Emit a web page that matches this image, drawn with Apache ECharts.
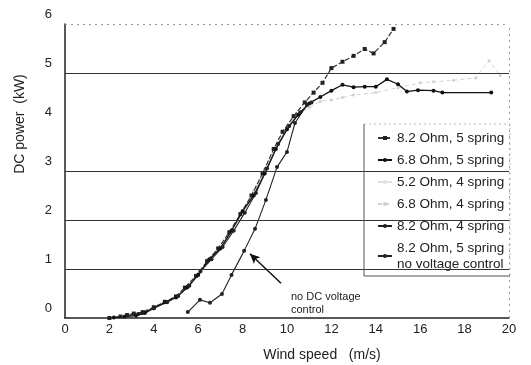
<!DOCTYPE html>
<html>
<head>
<meta charset="utf-8">
<script src="https://cdn.jsdelivr.net/npm/echarts@6/dist/echarts.min.js"></script>
<style>
html,body{margin:0;padding:0;background:#fff;}
#chart{width:531px;height:365px;}
</style>
</head>
<body>
<div id="chart"></div>
<script>
// ---- data (wind speed m/s, DC power kW) ----
const seriesNames = [
  '8.2 Ohm, 5 spring',
  '6.8 Ohm, 5 spring',
  '5.2 Ohm, 4 spring',
  '6.8 Ohm, 4 spring',
  '8.2 Ohm, 4 spring',
  '8.2 Ohm, 5 spring, no voltage control'
];
const legendLabels = [
  '8.2 Ohm, 5 spring',
  '6.8 Ohm, 5 spring',
  '5.2 Ohm, 4 spring',
  '6.8 Ohm, 4 spring',
  '8.2 Ohm, 4 spring',
  '8.2 Ohm, 5 spring\nno voltage control'
];
const windA  = [2.0, 2.5, 2.8, 3.1, 3.5, 4.0, 4.5, 5.0, 5.4, 5.9, 6.4, 6.9, 7.4, 7.9, 8.4, 8.9, 9.4, 9.8, 10.3, 10.8, 11.2, 11.6, 12.0, 12.5, 13.0, 13.5, 13.9, 14.4, 14.8];
const powerA = [0.0, 0.03, 0.06, 0.09, 0.12, 0.22, 0.33, 0.44, 0.62, 0.86, 1.16, 1.42, 1.75, 2.12, 2.5, 2.95, 3.45, 3.8, 4.12, 4.4, 4.6, 4.8, 5.1, 5.23, 5.35, 5.49, 5.4, 5.63, 5.9];
const windB  = [2.2, 2.7, 3.2, 3.6, 4.0, 4.5, 5.0, 5.5, 6.0, 6.5, 7.0, 7.5, 8.0, 8.5, 9.0, 9.5, 10.0, 10.5, 11.0, 11.5, 12.0, 12.5, 13.0, 13.5, 14.0, 14.5, 15.0, 15.4, 15.9, 16.6, 17.0, 19.2];
const powerB = [0.01, 0.03, 0.05, 0.1, 0.2, 0.32, 0.42, 0.62, 0.88, 1.2, 1.42, 1.78, 2.18, 2.5, 2.95, 3.45, 3.85, 4.15, 4.38, 4.51, 4.64, 4.76, 4.71, 4.72, 4.72, 4.87, 4.77, 4.62, 4.65, 4.64, 4.6, 4.6];
const windC  = [3.0, 3.5, 4.0, 4.5, 5.0, 5.5, 6.0, 6.5, 7.0, 7.5, 8.0, 8.5, 9.0, 9.5, 10.0, 10.5, 11.0, 11.5];
const powerC = [0.05, 0.11, 0.21, 0.31, 0.43, 0.6, 0.85, 1.15, 1.4, 1.74, 2.14, 2.55, 3.0, 3.45, 3.88, 4.2, 4.42, 4.5];
const windD  = [2.5, 3.0, 3.5, 4.0, 4.5, 5.0, 5.5, 6.0, 6.5, 7.0, 7.5, 8.0, 8.5, 9.0, 9.5, 10.0, 10.5, 11.0, 11.5, 12.0, 12.5, 13.0, 14.0, 15.0, 16.0, 16.6, 17.5, 18.5, 19.1, 19.6];
const powerD = [0.02, 0.06, 0.12, 0.22, 0.33, 0.45, 0.64, 0.9, 1.18, 1.45, 1.8, 2.2, 2.6, 3.05, 3.5, 3.9, 4.15, 4.3, 4.42, 4.45, 4.5, 4.55, 4.6, 4.7, 4.8, 4.82, 4.85, 4.9, 5.25, 4.95];
const windE  = [2.8, 3.3, 3.5, 4.0, 4.6, 5.1, 5.6, 6.1, 6.6, 7.1, 7.6, 8.1, 8.6, 9.1, 9.6, 10.1, 10.6, 11.1];
const powerE = [0.05, 0.08, 0.1, 0.2, 0.32, 0.45, 0.66, 0.95, 1.2, 1.45, 1.78, 2.15, 2.55, 3.05, 3.55, 3.92, 4.2, 4.4];
const windF  = [5.53, 6.08, 6.53, 7.07, 7.5, 8.07, 8.56, 9.05, 9.55, 10.0, 10.36, 10.9];
const powerF = [0.12, 0.37, 0.31, 0.49, 0.88, 1.37, 1.82, 2.41, 3.08, 3.39, 3.98, 4.35];
// gridlines drawn in the figure (no line at 4)
const solidGridValues = [1, 2, 3, 5];
// annotation arrow (data coords): from -> to
const arrowFrom = [9.73, 0.71];
const arrowTo = [8.33, 1.31];

function pairs(xs, ys) { return xs.map((x, i) => [x, ys[i]]); }

const FONT = "'Liberation Sans', Arial, Helvetica, sans-serif";
const chart = echarts.init(document.getElementById('chart'), null, {renderer: 'canvas'});

const option = {
  backgroundColor: '#ffffff',
  animation: false,
  grid: {left: 65, right: 22, top: 24, bottom: 47},
  xAxis: {
    type: 'value', min: 0, max: 20, interval: 2,
    axisLine: {show: true, lineStyle: {color: '#222', width: 1.5}},
    axisTick: {show: false},
    splitLine: {show: false},
    axisLabel: {color: '#222', fontSize: 13, fontFamily: FONT, margin: 5}
  },
  yAxis: {
    type: 'value', min: 0, max: 6, interval: 1,
    axisLine: {show: true, lineStyle: {color: '#222', width: 1.5}},
    axisTick: {show: false},
    splitLine: {show: false},
    axisLabel: {color: '#222', fontSize: 13, fontFamily: FONT, margin: 13,
      verticalAlign: 'bottom', lineHeight: 14, padding: [0, 0, 3, 0]}
  },
  legend: {
    orient: 'vertical', left: 377, top: 130, padding: 0,
    itemGap: 6, itemWidth: 14, itemHeight: 5,
    data: seriesNames,
    formatter: function (name) { return legendLabels[seriesNames.indexOf(name)]; },
    textStyle: {color: '#222', fontSize: 13.5, fontFamily: FONT, lineHeight: 16},
    z: 10
  },
  graphic: [
    {type: 'rect', z: 5, shape: {x: 364, y: 124, width: 146, height: 152},
      style: {fill: '#fff', stroke: null}},
    {type: 'polyline', z: 6, shape: {points: [[364, 124], [364, 276], [510, 276]]},
      style: {stroke: '#555', lineWidth: 1, fill: null}},
    {type: 'polyline', z: 6, shape: {points: [[364, 124], [510, 124], [510, 276]]},
      style: {stroke: '#bbb', lineWidth: 1, lineDash: [2, 3], fill: null}},
    {type: 'text', z: 6, x: 20, y: 124, rotation: Math.PI / 2,
      style: {text: 'DC power  (kW)', fill: '#222', font: '14px ' + FONT, textAlign: 'center', textVerticalAlign: 'middle'}},
    {type: 'text', z: 6, x: 322, y: 355,
      style: {text: 'Wind speed   (m/s)', fill: '#222', font: '14px ' + FONT, textAlign: 'center', textVerticalAlign: 'middle'}},
    {type: 'text', z: 6, x: 291, y: 290,
      style: {text: 'no DC voltage\ncontrol', fill: '#222', font: '11px ' + FONT, lineHeight: 13, textAlign: 'left', textVerticalAlign: 'top'}}
  ],
  series: [
    {
      name: seriesNames[0], type: 'line', data: pairs(windA, powerA),
      symbol: 'rect', symbolSize: 4, showSymbol: true,
      lineStyle: {color: '#333', width: 1.2, type: [5, 2]},
      itemStyle: {color: '#222'}, z: 3
    },
    {
      name: seriesNames[1], type: 'line', data: pairs(windB, powerB),
      symbol: 'circle', symbolSize: 4,
      lineStyle: {color: '#111', width: 1.3},
      itemStyle: {color: '#111'}, z: 3,
      markLine: {
        silent: true, symbol: 'none', label: {show: false},
        lineStyle: {color: '#333', width: 1.2, type: 'solid'},
        data: solidGridValues.map(v => ({yAxis: v})).concat([
          {yAxis: 6, lineStyle: {color: '#999', type: [2, 4], width: 1}},
          {xAxis: 20, lineStyle: {color: '#999', type: [2, 4], width: 1}}
        ])
      }
    },
    {
      name: seriesNames[2], type: 'line', data: pairs(windC, powerC),
      symbol: 'none',
      lineStyle: {color: '#e2e2e2', width: 1},
      itemStyle: {color: '#e2e2e2'}, z: 2
    },
    {
      name: seriesNames[3], type: 'line', data: pairs(windD, powerD),
      symbol: 'circle', symbolSize: 3,
      lineStyle: {color: '#d2d2d2', width: 1, type: [4, 3]},
      itemStyle: {color: '#cfcfcf'}, z: 2
    },
    {
      name: seriesNames[4], type: 'line', data: pairs(windE, powerE),
      symbol: 'circle', symbolSize: 4,
      lineStyle: {color: '#222', width: 1.1},
      itemStyle: {color: '#222'}, z: 3
    },
    {
      name: seriesNames[5], type: 'line', data: pairs(windF, powerF),
      symbol: 'circle', symbolSize: 4,
      lineStyle: {color: '#222', width: 1.1},
      itemStyle: {color: '#222'}, z: 3,
      markLine: {
        silent: true, label: {show: false}, symbolSize: [7, 10],
        lineStyle: {color: '#111', width: 1.5, type: 'solid'},
        data: [[{coord: arrowFrom, symbol: 'none'}, {coord: arrowTo, symbol: 'arrow'}]]
      }
    }
  ]
};
chart.setOption(option);
</script>
</body>
</html>
